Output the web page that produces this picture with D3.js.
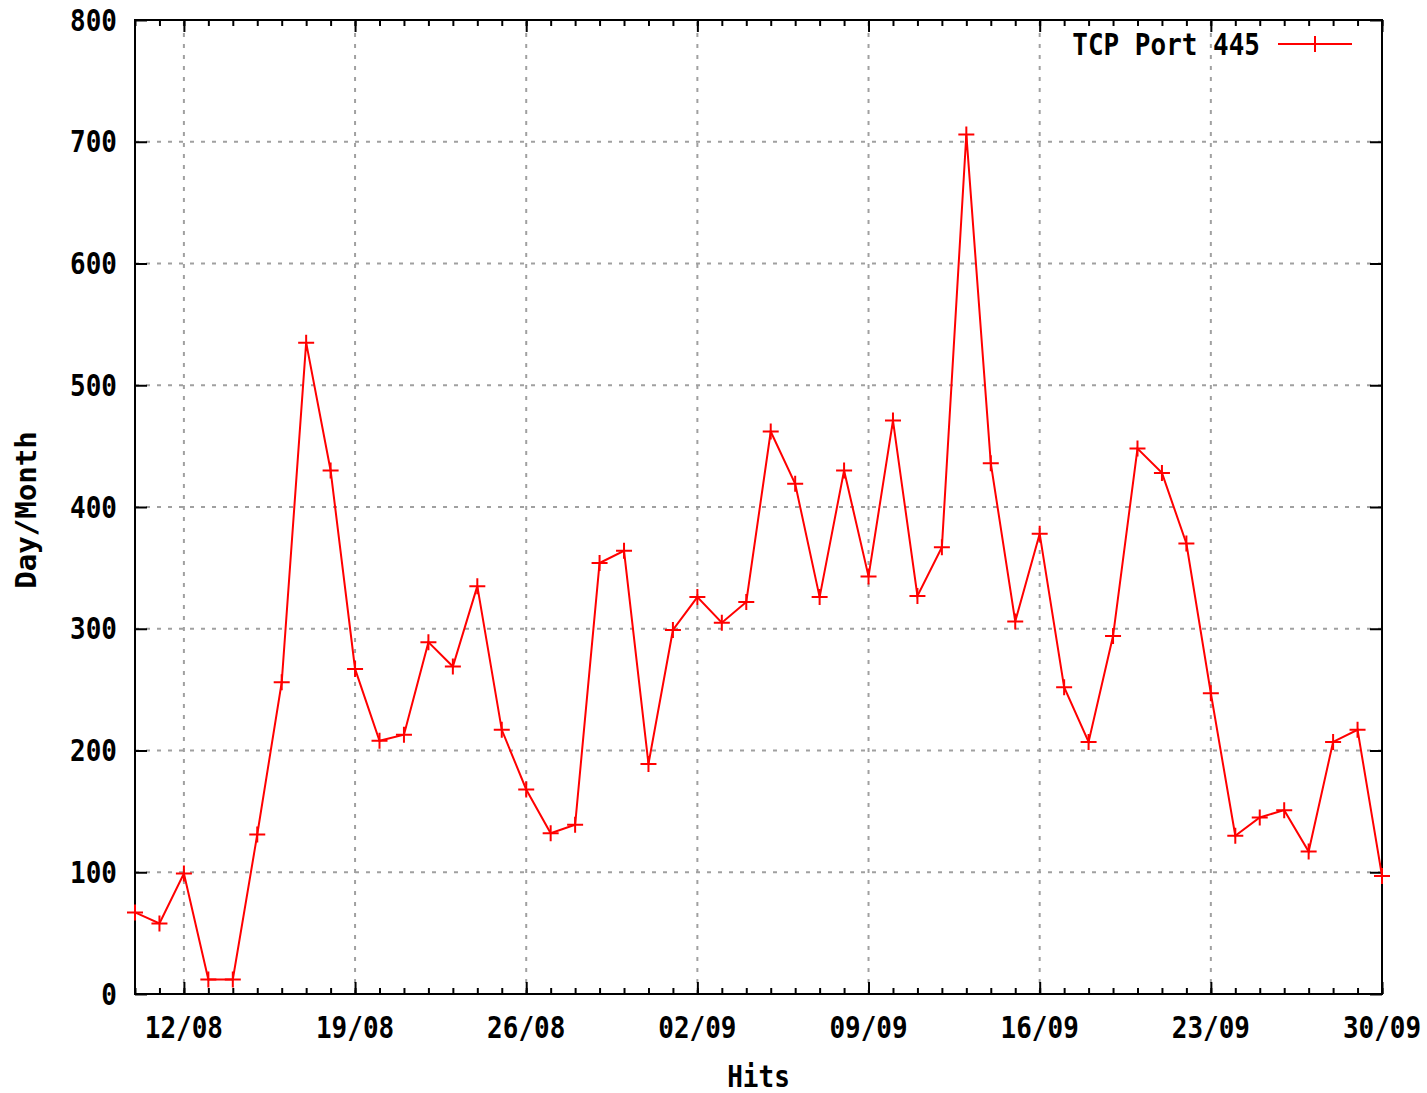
<!DOCTYPE html>
<html>
<head>
<meta charset="utf-8">
<script src="https://d3js.org/d3.v7.min.js"></script>
<style>
  html, body { margin: 0; padding: 0; background: #fff; }
  svg text { font-family: "DejaVu Sans Mono", monospace; font-weight: bold; fill: #000; }
</style>
</head>
<body>
<div id="chart"></div>
<script>
// daily hits, 10/08 .. 30/09
var days = ["10/08","11/08","12/08","13/08","14/08","15/08","16/08","17/08","18/08","19/08",
            "20/08","21/08","22/08","23/08","24/08","25/08","26/08","27/08","28/08","29/08",
            "30/08","31/08","01/09","02/09","03/09","04/09","05/09","06/09","07/09","08/09",
            "09/09","10/09","11/09","12/09","13/09","14/09","15/09","16/09","17/09","18/09",
            "19/09","20/09","21/09","22/09","23/09","24/09","25/09","26/09","27/09","28/09",
            "29/09","30/09"];
var hits = [67, 58, 99, 12, 12, 131, 256, 535, 430, 267,
            208, 213, 289, 269, 335, 217, 168, 132, 139, 354,
            364, 189, 299, 326, 305, 322, 462, 419, 326, 430,
            343, 471, 327, 367, 706, 436, 306, 378, 252, 207,
            294, 448, 428, 370, 247, 130, 145, 151, 117, 207,
            217, 97];
var xTickLabels = ["12/08","19/08","26/08","02/09","09/09","16/09","23/09","30/09"];
var yTicks = [0, 100, 200, 300, 400, 500, 600, 700, 800];
var seriesName = "TCP Port 445";
var xTitle = "Hits";
var yTitle = "Day/Month";

var W = 1427, H = 1093;
// note: "top" is reserved on window, so use plot* names
var plotL = 135, plotR = 1382, plotT = 20, plotB = 994;

var parse = d3.timeParse("%d/%m/%Y");
var toDate = function(s){ return parse(s + "/2007"); };
var data = days.map(function(d, i){ return {date: toDate(d), v: hits[i]}; });

var x = d3.scaleTime()
    .domain([toDate(days[0]), toDate(days[days.length-1])])
    .range([plotL, plotR]);
var y = d3.scaleLinear().domain([0, 800]).range([plotB, plotT]);

var svg = d3.select("#chart").append("svg")
    .attr("width", W).attr("height", H);

var majorX = xTickLabels.map(toDate);
var minorX = data.map(function(d){ return d.date; });

// grid
var grid = svg.append("g").attr("stroke", "#a0a0a0").attr("stroke-width", 2)
    .attr("stroke-dasharray", "4,7");
grid.selectAll(".gx").data(majorX.filter(function(d){ return x(d) < plotR - 1; }))
  .enter().append("line")
    .attr("x1", function(d){ return x(d); }).attr("x2", function(d){ return x(d); })
    .attr("y1", plotB).attr("y2", plotT);
grid.selectAll(".gy").data(yTicks.slice(1, -1))
  .enter().append("line")
    .attr("y1", function(d){ return y(d); }).attr("y2", function(d){ return y(d); })
    .attr("x1", plotL).attr("x2", plotR);

// ticks on all sides, pointing inward
function styleAxis(g){
  g.select(".domain").remove();
  g.selectAll("line").attr("stroke", "#000").attr("stroke-width", 2);
}
svg.append("g").attr("transform", "translate(0," + plotB + ")")
  .call(d3.axisBottom(x).tickValues(minorX).tickSize(-6).tickFormat(""))
  .call(styleAxis);
svg.append("g").attr("transform", "translate(0," + plotB + ")")
  .call(d3.axisBottom(x).tickValues(majorX).tickSize(-12).tickFormat(""))
  .call(styleAxis);
svg.append("g").attr("transform", "translate(0," + plotT + ")")
  .call(d3.axisTop(x).tickValues(minorX).tickSize(-6).tickFormat(""))
  .call(styleAxis);
svg.append("g").attr("transform", "translate(0," + plotT + ")")
  .call(d3.axisTop(x).tickValues(majorX).tickSize(-12).tickFormat(""))
  .call(styleAxis);
svg.append("g").attr("transform", "translate(" + plotL + ",0)")
  .call(d3.axisLeft(y).tickValues(yTicks).tickSize(-12).tickFormat(""))
  .call(styleAxis);
svg.append("g").attr("transform", "translate(" + plotR + ",0)")
  .call(d3.axisRight(y).tickValues(yTicks).tickSize(-12).tickFormat(""))
  .call(styleAxis);

// frame
svg.append("rect")
  .attr("x", plotL).attr("y", plotT)
  .attr("width", plotR - plotL).attr("height", plotB - plotT)
  .attr("fill", "none").attr("stroke", "#000").attr("stroke-width", 2);

// tick labels (tall narrow font look)
function label(px, py, txt, anchor){
  svg.append("g").attr("transform", "translate(" + px + "," + py + ") scale(1,1.15)")
    .append("text")
      .attr("text-anchor", anchor)
      .attr("font-size", 26)
      .text(txt);
}
yTicks.forEach(function(v){ label(117, y(v) + 10.5, String(v), "end"); });
xTickLabels.forEach(function(t){ label(x(toDate(t)), plotB + 44, t, "middle"); });

// axis titles
label((plotL + plotR) / 2, 1087, xTitle, "middle");
svg.append("g").attr("transform", "translate(36,510) rotate(-90) scale(1.12,1.07)")
  .append("text").attr("text-anchor", "middle").attr("font-size", 26).text(yTitle);

// series line
var line = d3.line().x(function(d){ return x(d.date); }).y(function(d){ return y(d.v); });
svg.append("path").datum(data)
  .attr("d", line)
  .attr("fill", "none").attr("stroke", "#ff0000").attr("stroke-width", 2);

// cross markers
var cs = 8;
var marks = svg.append("g").attr("stroke", "#ff0000").attr("stroke-width", 2);
marks.selectAll("path").data(data).enter().append("path")
  .attr("d", function(d){
    var px = x(d.date), py = y(d.v);
    return "M" + (px - cs) + "," + py + "H" + (px + cs) + "M" + px + "," + (py - cs) + "V" + (py + cs);
  });

// legend
label(1260, 55, seriesName, "end");
svg.append("line").attr("x1", 1278).attr("x2", 1352).attr("y1", 44).attr("y2", 44)
  .attr("stroke", "#ff0000").attr("stroke-width", 2);
svg.append("path").attr("d", "M1307,44H1323M1315,36V52")
  .attr("stroke", "#ff0000").attr("stroke-width", 2);
</script>
</body>
</html>
